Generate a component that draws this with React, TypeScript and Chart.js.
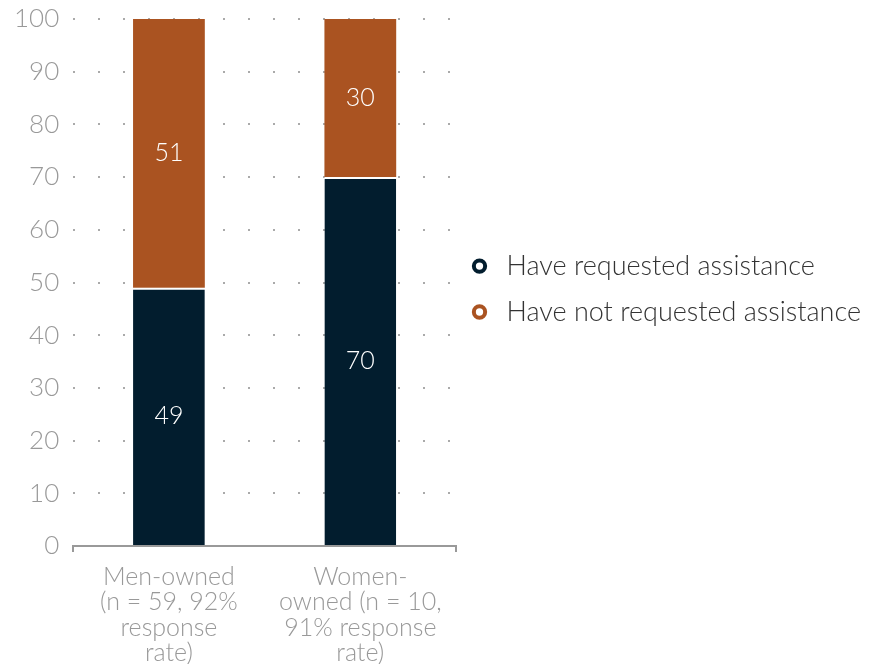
import React, { useEffect, useRef } from "react";
import { Chart, registerables } from "chart.js";

Chart.register(...registerables);

const categories: string[][] = [
  ["Men-owned", "(n = 59, 92%", "response", "rate)"],
  ["Women-", "owned (n = 10,", "91% response", "rate)"],
];
const requested: number[] = [49, 70];
const notRequested: number[] = [51, 30];
const seriesLabels: string[] = ["Have requested assistance", "Have not requested assistance"];
const seriesColors: string[] = ["#021d2e", "#aa5321"];
const yTicks: number[] = [0, 10, 20, 30, 40, 50, 60, 70, 80, 90, 100];

const FONT = "Lato, 'Open Sans', sans-serif";

const valueLabels = {
  id: "valueLabels",
  afterDatasetsDraw(chart: any) {
    const ctx = chart.ctx;
    ctx.save();
    ctx.fillStyle = "#ffffff";
    ctx.font = `300 25px ${FONT}`;
    ctx.textAlign = "center";
    ctx.textBaseline = "middle";
    chart.data.datasets.forEach((ds: any, di: number) => {
      const meta = chart.getDatasetMeta(di);
      meta.data.forEach((el: any, i: number) => {
        const y = (el.y + el.base) / 2;
        ctx.fillText(String(ds.data[i]), el.x, y);
      });
    });
    ctx.restore();
  },
};

export default function App() {
  const ref = useRef<HTMLCanvasElement>(null);
  useEffect(() => {
    document.body.style.margin = "0";
    const chart = new Chart(ref.current!, {
      type: "bar",
      data: {
        labels: categories,
        datasets: [
          {
            label: seriesLabels[0],
            data: requested,
            backgroundColor: seriesColors[0],
            borderColor: "#ffffff",
            borderWidth: { top: 2, left: 0, right: 0, bottom: 0 },
            borderSkipped: false,
            barPercentage: 0.75,
            categoryPercentage: 0.5,
          },
          {
            label: seriesLabels[1],
            data: notRequested,
            backgroundColor: seriesColors[1],
            borderColor: "#ffffff",
            borderWidth: 0,
            barPercentage: 0.75,
            categoryPercentage: 0.5,
          },
        ],
      },
      options: {
        animation: false,
        responsive: false,
        maintainAspectRatio: false,
        layout: { padding: { top: 0, right: 13, left: 0, bottom: -14 } },
        plugins: {
          tooltip: { enabled: false },
          legend: {
            position: "right",
            fullSize: false,
            maxWidth: 440,
            title: {
              display: true,
              text: "",
              font: { size: 1, lineHeight: 1 },
              padding: { top: 21, bottom: 0 },
            },
            labels: {
              usePointStyle: true,
              boxHeight: 8,
              padding: 10,
              color: "#333333",
              font: { family: FONT, size: 27, weight: "300", lineHeight: 1.33 },
              generateLabels: (c: any) =>
                c.data.datasets.map((ds: any, i: number) => ({
                  text: [ds.label],
                  fillStyle: "#ffffff",
                  strokeStyle: ds.backgroundColor,
                  lineWidth: 4,
                  pointStyle: "circle",
                  hidden: false,
                  datasetIndex: i,
                  fontColor: "#333333",
                })),
            },
          },
        },
        scales: {
          x: {
            stacked: true,
            border: { display: true, color: "#999999", width: 2 },
            grid: {
              drawOnChartArea: false,
              drawTicks: true,
              tickLength: 6,
              color: (ctx: any) => (ctx.index === 1 ? "rgba(0,0,0,0)" : "#999999"),
              lineWidth: 2,
            },
            ticks: {
              color: "#999999",
              font: { family: FONT, size: 25, weight: "300", lineHeight: 1.02 },
              padding: 12,
              maxRotation: 0,
              autoSkip: false,
            },
          },
          y: {
            stacked: true,
            min: 0,
            max: 100,
            afterBuildTicks: (axis: any) => {
              axis.ticks = yTicks.map((v) => ({ value: v }));
            },
            afterFit: (axis: any) => {
              axis.paddingTop = 19;
              axis.paddingBottom = 0;
            },
            border: { display: false, dash: [2, 23] },
            grid: {
              color: "#aaaaaa",
              lineWidth: 2,
              drawTicks: false,
            },
            ticks: {
              color: "#999999",
              font: { family: FONT, size: 26, weight: "300", lineHeight: 1 },
              padding: 14,
            },
          },
        },
      },
      plugins: [valueLabels],
    });
    return () => chart.destroy();
  }, []);
  return (
    <div style={{ width: 884, height: 664 }}>
      <canvas ref={ref} width={884} height={664} style={{ display: "block" }} />
    </div>
  );
}
